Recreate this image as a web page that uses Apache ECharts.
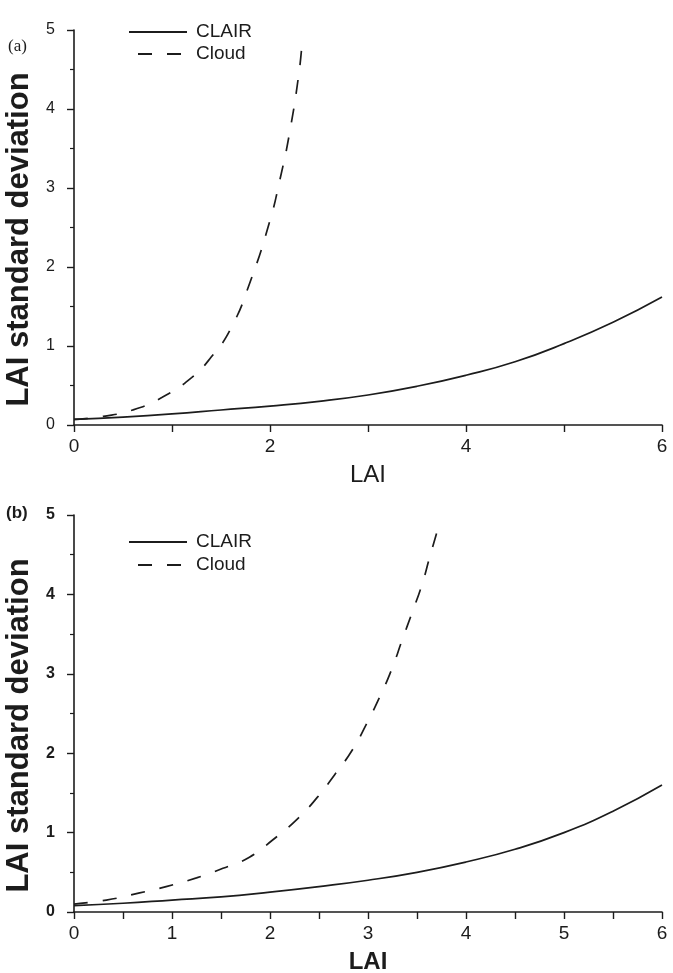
<!DOCTYPE html>
<html>
<head>
<meta charset="utf-8">
<script src="https://cdn.jsdelivr.net/npm/echarts@6/dist/echarts.min.js"></script>
<style>
  html, body { margin: 0; padding: 0; background: #fff; }
  #chart { width: 673px; height: 973px; }
</style>
</head>
<body>
<div id="chart"></div>
<script>
// panel (a)
const laiClairA = [0, 0.5, 1, 1.5, 2, 2.5, 3, 3.5, 4, 4.5, 5, 5.5, 6]
const sdClairA = [0.07, 0.1, 0.14, 0.19, 0.24, 0.3, 0.38, 0.49, 0.63, 0.8, 1.03, 1.3, 1.62]
const laiCloudA = [0, 0.3, 0.6, 0.9, 1.2, 1.4, 1.6, 1.8, 2.0, 2.1, 2.2, 2.3, 2.33]
const sdCloudA = [0.07, 0.11, 0.19, 0.35, 0.6, 0.86, 1.22, 1.82, 2.59, 3.1, 3.7, 4.5, 4.9]

// panel (b)
const laiClairB = [0, 0.5, 1, 1.5, 2, 2.5, 3, 3.5, 4, 4.5, 5, 5.5, 6]
const sdClairB = [0.08, 0.11, 0.15, 0.19, 0.25, 0.32, 0.4, 0.5, 0.63, 0.79, 1.0, 1.27, 1.6]
const laiCloudB = [0, 0.33, 0.67, 0.94, 1.25, 1.52, 1.79, 2.03, 2.27, 2.48, 2.66, 2.84, 2.99, 3.12, 3.24, 3.35, 3.45, 3.55, 3.63, 3.74]
const sdCloudB = [0.1, 0.15, 0.24, 0.32, 0.43, 0.55, 0.69, 0.91, 1.16, 1.44, 1.73, 2.04, 2.38, 2.71, 3.05, 3.43, 3.77, 4.12, 4.47, 4.94]

const seriesNames = ['CLAIR', 'Cloud']

const ink = '#1c1c1c'
const font = '"Liberation Sans", Arial, sans-serif'

const pairs = (xs, ys) => xs.map((x, i) => [x, ys[i]])

const makeX = (idx, step, showLabel, nameBold) => ({
    type: 'value',
    gridIndex: idx,
    min: 0,
    max: 6,
    interval: step,
    name: 'LAI',
    nameLocation: 'middle',
    nameGap: 38,
    nameTextStyle: { fontSize: 24, color: ink, fontFamily: font, fontWeight: nameBold ? 'bold' : 'normal' },
    axisLine: { lineStyle: { color: ink, width: 1.6 } },
    axisTick: { inside: false, length: 7, lineStyle: { color: ink, width: 1.4 } },
    axisLabel: { margin: 12, fontSize: 19, color: ink, fontFamily: font, formatter: showLabel },
    splitLine: { show: false },
})

const makeY = (idx, bold) => ({
    type: 'value',
    gridIndex: idx,
    min: 0,
    max: 5,
    interval: 1,
    name: 'LAI standard deviation',
    nameLocation: 'middle',
    nameGap: 38,
    nameTextStyle: { fontSize: 31, fontWeight: 'bold', color: ink, fontFamily: font, padding: [0, 24, 0, 0] },
    axisLine: { show: true, lineStyle: { color: ink, width: 1.6 } },
    axisTick: { show: true, length: 7, lineStyle: { color: ink, width: 1.4 } },
    minorTick: { show: true, splitNumber: 2, length: 4, lineStyle: { color: ink, width: 1.2 } },
    axisLabel: { margin: 19, fontSize: 16, color: ink, fontFamily: font, fontWeight: bold ? 'bold' : 'normal' },
    splitLine: { show: false },
})

const makeLine = (name, data, idx, dashed) => ({
    name,
    type: 'line',
    xAxisIndex: idx,
    yAxisIndex: idx,
    data,
    smooth: true,
    symbol: 'none',
    lineStyle: { color: ink, width: 1.7, type: dashed ? [14, 15] : 'solid' },
    itemStyle: { color: ink },
})

const makeLegend = (top, gap) => ({
    data: seriesNames,
    orient: 'vertical',
    left: 123,
    top,
    itemWidth: 58,
    itemHeight: 14,
    itemGap: gap,
    selectedMode: false,
    itemStyle: { opacity: 0 },
    lineStyle: { dashOffset: 20 },
    textStyle: { fontSize: 19, lineHeight: 22, color: ink, fontFamily: font, padding: [0, 0, 0, 4] },
})

const chart = echarts.init(document.getElementById('chart'))
chart.setOption({
    backgroundColor: '#fff',
    animation: false,
    grid: [
        { left: 74, top: 30, width: 588, height: 395, outerBoundsMode: 'none' },
        { left: 74, top: 515, width: 588, height: 397, outerBoundsMode: 'none' },
    ],
    xAxis: [
        makeX(0, 1, (v) => (v % 2 === 0 ? v : ''), false),
        makeX(1, 0.5, (v) => (Number.isInteger(v) ? v : ''), true),
    ],
    yAxis: [makeY(0, false), makeY(1, true)],
    legend: [makeLegend(16, 0), makeLegend(526, 1)],
    graphic: [
        { type: 'text', left: 8, top: 38, style: { text: '(a)', fontSize: 17, fontFamily: '"Liberation Serif", serif', fill: ink } },
        { type: 'text', left: 6, top: 505, style: { text: '(b)', fontSize: 17, fontWeight: 'bold', fontFamily: font, fill: ink } },
    ],
    series: [
        makeLine('CLAIR', pairs(laiClairA, sdClairA), 0, false),
        makeLine('Cloud', pairs(laiCloudA, sdCloudA), 0, true),
        makeLine('CLAIR', pairs(laiClairB, sdClairB), 1, false),
        makeLine('Cloud', pairs(laiCloudB, sdCloudB), 1, true),
    ],
})
</script>
</body>
</html>
